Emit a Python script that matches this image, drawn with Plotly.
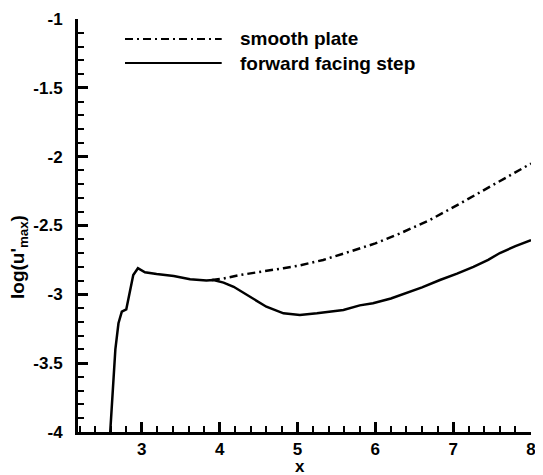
import plotly.graph_objects as go

# forward facing step
step_x = [2.594, 2.63, 2.66, 2.70, 2.743, 2.80, 2.85, 2.89, 2.95, 3.04, 3.19, 3.41, 3.62, 3.83, 3.92,
          4.05, 4.18, 4.39, 4.60, 4.82, 5.03, 5.25, 5.46, 5.59, 5.80, 5.97, 6.20, 6.40, 6.60, 6.83,
          7.05, 7.26, 7.45, 7.60, 7.80, 8.0]
step_y = [-4.0, -3.68, -3.40, -3.21, -3.126, -3.11, -2.97, -2.86, -2.81, -2.84, -2.853, -2.867, -2.89, -2.90, -2.896,
          -2.915, -2.945, -3.02, -3.09, -3.138, -3.15, -3.138, -3.12, -3.114, -3.08, -3.065, -3.03, -2.99, -2.95, -2.896,
          -2.85, -2.80, -2.75, -2.70, -2.65, -2.606]

# smooth plate
plate_x = [3.90, 4.05, 4.26, 4.50, 4.82, 5.03, 5.33, 5.67, 6.00, 6.32, 6.70, 7.09, 7.50, 8.0]
plate_y = [-2.896, -2.885, -2.86, -2.84, -2.81, -2.79, -2.75, -2.69, -2.63, -2.557, -2.46, -2.34, -2.21, -2.05]

ytick_vals = [-1, -1.5, -2, -2.5, -3, -3.5, -4]
ytick_text = ["-1", "-1.5", "-2", "-2.5", "-3", "-3.5", "-4"]

legend_names = ["smooth plate", "forward facing step"]

FONT = "Liberation Sans, Arial, sans-serif"
OFF = 8  # default page body margin
W, H = 543 - OFF, 475 - OFF
L, R, T, B = 78 - OFF, 531.0 - OFF, 19.0 - OFF, 432.0 - OFF
INK = "#000000"

fig = go.Figure()
fig.add_trace(go.Scatter(x=plate_x, y=plate_y, mode="lines",
                         line=dict(color=INK, width=2.5, dash="8px,4px,2px,4px"),
                         name=legend_names[0], showlegend=False))
fig.add_trace(go.Scatter(x=step_x, y=step_y, mode="lines",
                         line=dict(color=INK, width=2.5),
                         name=legend_names[1], showlegend=False))

def px(xp):
    return (xp - OFF - L) / (R - L)

def py(yp):
    return 1 - (yp - OFF - T) / (B - T)

# manual legend
leg_y = [39, 63]
dashes = ["8px,4px,2px,4px", "solid"]
for name, ly, d in zip(legend_names, leg_y, dashes):
    fig.add_shape(type="line", xref="paper", yref="paper",
                  x0=px(125), x1=px(221.7), y0=py(ly), y1=py(ly),
                  line=dict(color=INK, width=2.2, dash=d))
    fig.add_annotation(xref="paper", yref="paper", x=px(238), y=py(ly),
                       xanchor="left", yanchor="middle", text="<b>%s</b>" % name, showarrow=False,
                       font=dict(family=FONT, size=19, color=INK))

# axis titles
fig.add_annotation(xref="paper", yref="paper", x=px(300), y=py(466), xanchor="center", yanchor="middle",
                   text="<b>x</b>", showarrow=False, font=dict(family=FONT, size=17, color=INK))
fig.add_annotation(xref="paper", yref="paper", x=px(19), y=py(257), xanchor="center", yanchor="middle",
                   text="<b>log(u'<sub>max</sub>)</b>", textangle=-90, showarrow=False,
                   font=dict(family=FONT, size=19, color=INK))

fig.update_layout(
    width=W, height=H,
    margin=dict(l=L, r=W - R, t=T, b=H - B, autoexpand=False),
    paper_bgcolor="white", plot_bgcolor="white",
    font=dict(family=FONT, color=INK),
    showlegend=False,
)
fig.update_xaxes(range=[2.18, 8], showgrid=False, zeroline=False, automargin=False,
                 showline=True, linecolor=INK, linewidth=3,
                 tickmode="linear", tick0=0, dtick=1,
                 ticks="inside", ticklen=10, tickwidth=2.5, tickcolor=INK,
                 tickfont=dict(family=FONT, size=17, color=INK, weight="bold"),
                 minor=dict(ticks="inside", dtick=0.2, ticklen=6, tickwidth=1.5, tickcolor=INK))
fig.update_yaxes(range=[-4, -1], showgrid=False, zeroline=False, automargin=False,
                 showline=True, linecolor=INK, linewidth=3,
                 tickmode="array", tickvals=ytick_vals, ticktext=ytick_text,
                 ticks="inside", ticklen=10, tickwidth=2.5, tickcolor=INK,
                 ticklabelstandoff=9,
                 tickfont=dict(family=FONT, size=17, color=INK, weight="bold"),
                 minor=dict(ticks="inside", dtick=0.1, ticklen=6, tickwidth=1.5, tickcolor=INK))

fig.write_html("out.html")
